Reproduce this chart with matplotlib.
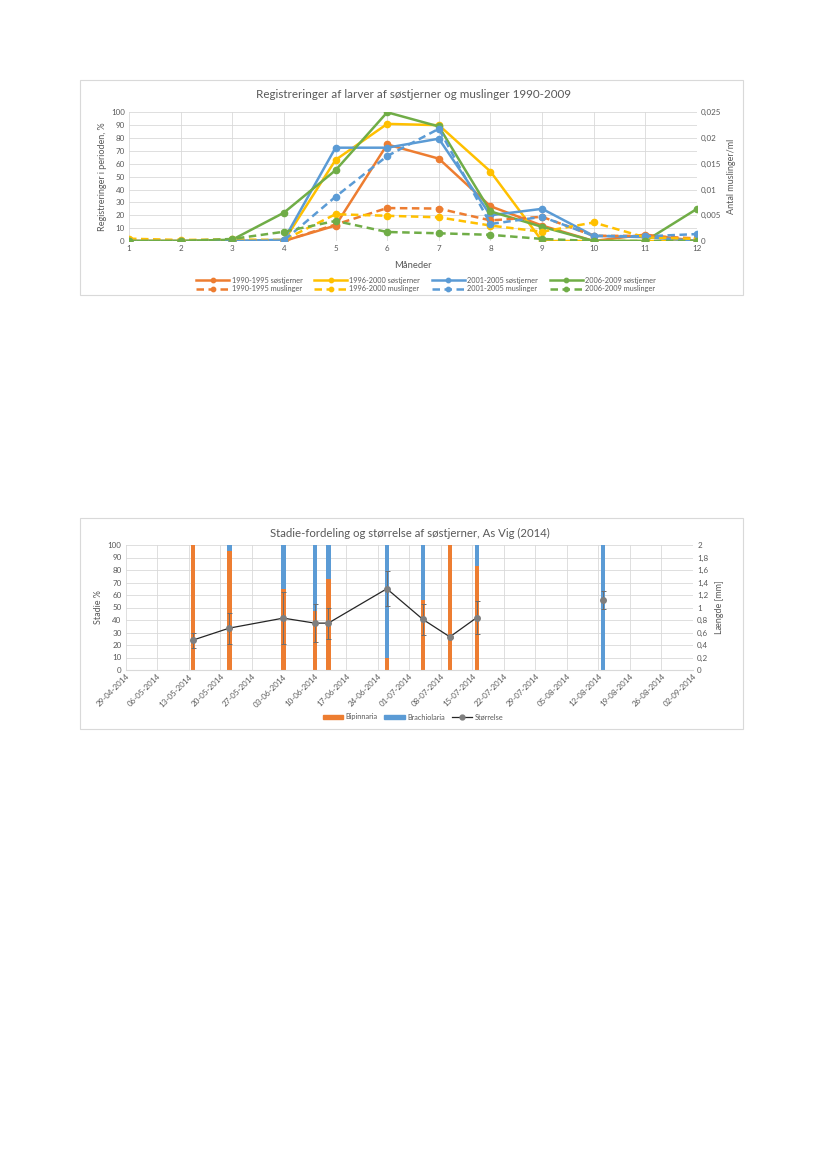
"""Two Excel-style charts on an A4 page: larval registrations + stage/size."""
import numpy as np
import pandas as pd
import matplotlib
matplotlib.use('Agg')
import matplotlib.pyplot as plt
import matplotlib.dates as mdates
from matplotlib.patches import Rectangle
from matplotlib.lines import Line2D
from matplotlib.ticker import FuncFormatter

plt.rcParams['font.family'] = ['Lato', 'DejaVu Sans']

W, H = 826, 1169
TXT = '#595959'
GRID = '#D9D9D9'
ORANGE, YELLOW, BLUE, GREEN = '#ED7D31', '#FFC000', '#5B9BD5', '#70AD47'

# ---- chart 1 data (søstjerner in %, muslinger per ml) ----
months = list(range(1, 13))
sost_9095 = [0, 0, 0, 0, 12, 75, 64, 27, 12, 0, 5, 0]
sost_9600 = [0, 0, 0, 0, 63, 91, 90, 54, 0, 0, 0, 0]
sost_0105 = [0, 0, 0, 1, 72.5, 72.5, 79.5, 20, 25, 4, 3, 0]
sost_0609 = [0, 0, 1, 22, 55, 100, 89, 23, 11, 0, 0, 25]
musl_9095 = [0, 0, 0, 0, 0.0032, 0.0064, 0.0063, 0.004, 0.0047, 0.001, 0.001, 0.0005]
musl_9600 = [0.00045, 0.0002, 0.0003, 0.0002, 0.0052, 0.0049, 0.0046, 0.003, 0.0018, 0.0036, 0.0007, 0.0004]
musl_0105 = [0, 0, 0, 0.0001, 0.0086, 0.0165, 0.0218, 0.0033, 0.0047, 0.001, 0.0009, 0.00135]
musl_0609 = [0, 0, 0.0004, 0.0018, 0.0039, 0.00175, 0.0015, 0.0012, 0.0004, 0, 0, 0]
periods = ['1990-1995', '1996-2000', '2001-2005', '2006-2009']

# ---- chart 2 data ----
sample_dates = ['2014-05-14', '2014-05-22', '2014-06-03', '2014-06-10', '2014-06-13',
                '2014-06-26', '2014-07-04', '2014-07-10', '2014-07-16', '2014-08-13']
bipinnaria = [100, 95, 65, 47, 73, 10, 56, 100, 83, 0]
brachiolaria = [0, 5, 35, 53, 27, 90, 44, 0, 17, 100]
size_mm = [0.48, 0.67, 0.83, 0.75, 0.75, 1.3, 0.81, 0.53, 0.84, 1.12]
size_err = [0.12, 0.25, 0.42, 0.30, 0.25, 0.28, 0.25, 0.02, 0.26, 0.145]


def px_axes(fig, x0, y0, x1, y1):
    """axes from pixel box (top-left origin)."""
    return fig.add_axes([x0 / W, 1 - y1 / H, (x1 - x0) / W, (y1 - y0) / H])


def comma(v, _):
    s = f'{v:g}'
    return s.replace('.', ',')


def style(ax):
    for s in ax.spines.values():
        s.set_visible(False)
    ax.tick_params(colors=TXT, labelsize=5.8, length=0, pad=3)
    ax.grid(True, color=GRID, lw=0.6)
    ax.set_axisbelow(True)


fig = plt.figure(figsize=(W / 100, H / 100), dpi=100)

# chart frames
for (x0, y0, x1, y1) in [(80, 80, 743, 295), (80, 518, 743, 729)]:
    fig.patches.append(Rectangle((x0 / W, 1 - y1 / H), (x1 - x0) / W, (y1 - y0) / H,
                                 transform=fig.transFigure, fill=False,
                                 ec=GRID, lw=0.8))

# ================= chart 1 =================
ax = px_axes(fig, 129, 112.3, 697, 241)
style(ax)
ax2 = ax.twinx()
for s in ax2.spines.values():
    s.set_visible(False)
ax2.tick_params(colors=TXT, labelsize=5.8, length=0, pad=3)

cols = [ORANGE, YELLOW, BLUE, GREEN]
sost = [sost_9095, sost_9600, sost_0105, sost_0609]
musl = [musl_9095, musl_9600, musl_0105, musl_0609]
handles = []
for c, p, s_vals, m_vals in zip(cols, periods, sost, musl):
    h1, = ax.plot(months, s_vals, color=c, lw=1.8, marker='o', ms=4.5,
                  label=f'{p} søstjerner', zorder=3)
    h2, = ax2.plot(months, m_vals, color=c, lw=1.8, ls=(0, (3, 1.8)), marker='o',
                   ms=4.5, label=f'{p} muslinger', zorder=2)
    handles += [h1, h2]

ax.set_xlim(1, 12)
ax.set_ylim(0, 100)
ax.set_xticks(months)
ax.set_yticks(range(0, 101, 10))
ax2.set_ylim(0, 0.025)
ax2.set_yticks([0, 0.005, 0.01, 0.015, 0.02, 0.025])
ax2.yaxis.set_major_formatter(FuncFormatter(comma))
ax.set_xlabel('Måneder', color=TXT, fontsize=6.8, labelpad=6)
ax.set_ylabel('Registreringer i perioden, %', color=TXT, fontsize=6.5, labelpad=3)
ax2.set_ylabel('Antal muslinger/ml', color=TXT, fontsize=6.5, labelpad=4)
fig.text(413 / W, 1 - 95 / H, 'Registreringer af larver af søstjerner og muslinger 1990-2009',
         ha='center', va='center', fontsize=8.4, color=TXT)
fig.legend(handles=handles, loc='center', bbox_to_anchor=(426 / W, 1 - 284.5 / H),
           ncol=4, frameon=False, fontsize=5.3, labelcolor=TXT, handlelength=4.5,
           columnspacing=1.6, handletextpad=0.3, labelspacing=0.25, markerscale=0.7)

# ================= chart 2 =================
bx = px_axes(fig, 125.7, 545, 693, 670)
style(bx)
bx2 = bx.twinx()
for s in bx2.spines.values():
    s.set_visible(False)
bx2.tick_params(colors=TXT, labelsize=5.8, length=0, pad=3)

d = pd.to_datetime(sample_dates)
bx.bar(d, bipinnaria, width=1.0, color=ORANGE, label='Bipinnaria', zorder=2)
bx.bar(d, brachiolaria, width=1.0, bottom=bipinnaria, color=BLUE, label='Brachiolaria', zorder=2)

err_kw = dict(color='#262626', lw=0.9, ecolor='#6E6E6E', elinewidth=0.7, capsize=1.8,
              capthick=0.7, marker='o', ms=4, mfc='#7F7F7F', mec='#7F7F7F', zorder=4)
bx2.errorbar(d[:9], size_mm[:9], yerr=size_err[:9], **err_kw)
bx2.errorbar(d[9:], size_mm[9:], yerr=size_err[9:], **err_kw)

start, end = pd.Timestamp('2014-04-29'), pd.Timestamp('2014-09-02')
bx.set_xlim(start, end)
bx.set_xticks(pd.date_range(start, end, freq='7D'))
bx.xaxis.set_major_formatter(mdates.DateFormatter('%d-%m-%Y'))
bx.tick_params(axis='x', rotation=45, pad=2)
for lab in bx.get_xticklabels():
    lab.set_ha('right')
    lab.set_rotation_mode('anchor')
bx.set_ylim(0, 100)
bx.set_yticks(range(0, 101, 10))
bx2.set_ylim(0, 2)
bx2.set_yticks(np.arange(0, 2.01, 0.2))
bx2.yaxis.set_major_formatter(FuncFormatter(lambda v, _: comma(round(v, 1), _)))
bx.spines['bottom'].set_visible(True)
bx.spines['bottom'].set_color(GRID)
bx.set_ylabel('Stadie %', color=TXT, fontsize=6.5, labelpad=3)
bx2.set_ylabel('Længde [mm]', color=TXT, fontsize=6.5, labelpad=5)
fig.text(410 / W, 1 - 533 / H, 'Stadie-fordeling og størrelse af søstjerner, As Vig (2014)',
         ha='center', va='center', fontsize=8.2, color=TXT)

leg_h = [Rectangle((0, 0), 1, 1, color=ORANGE), Rectangle((0, 0), 1, 1, color=BLUE),
         Line2D([], [], color='#262626', lw=0.9, marker='o', ms=3.5, mfc='#7F7F7F', mec='#7F7F7F')]
fig.legend(handles=leg_h, labels=['Bipinnaria', 'Brachiolaria', 'Størrelse'], loc='center',
           bbox_to_anchor=(413 / W, 1 - 717 / H), ncol=3, frameon=False, fontsize=5.3,
           labelcolor=TXT, handlelength=2.8, handleheight=0.6, columnspacing=0.9,
           handletextpad=0.3)

fig.savefig('out.png', dpi=100)
